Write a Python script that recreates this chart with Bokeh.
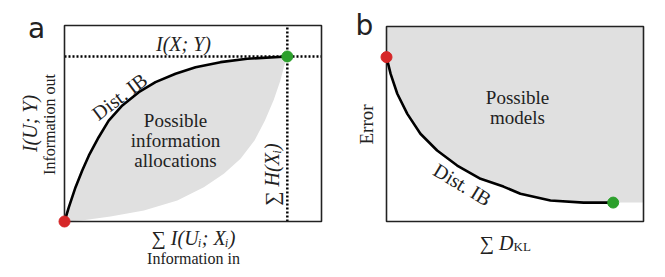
from bokeh.plotting import figure
from bokeh.layouts import row
from bokeh.models import Range1d, Label
from bokeh.embed import file_html
from bokeh.resources import INLINE
import math

# ---------------- data ----------------
# panel a: distributed IB frontier (upper) and lower bound of possible allocations
a_upper_x = [0, 0.017, 0.043, 0.069, 0.095, 0.133, 0.172, 0.225, 0.289, 0.354, 0.432, 0.510, 0.607, 0.711, 0.867]
a_upper_y = [0, 0.073, 0.175, 0.260, 0.337, 0.430, 0.515, 0.592, 0.660, 0.711, 0.754, 0.787, 0.813, 0.830, 0.842]
a_lower_x = [0, 0.08, 0.179, 0.309, 0.439, 0.542, 0.620, 0.685, 0.740, 0.780, 0.814, 0.840, 0.856, 0.867]
a_lower_y = [0, 0.008, 0.026, 0.056, 0.107, 0.175, 0.243, 0.320, 0.415, 0.515, 0.620, 0.720, 0.800, 0.842]
a_mi_xy = 0.842      # I(X;Y)
a_sum_h = 0.867      # sum H(X_i)

# panel b: error vs sum of KL
b_curve_x = [0, 0.016, 0.042, 0.081, 0.132, 0.197, 0.275, 0.366, 0.455, 0.521, 0.638, 0.767, 0.882]
b_curve_y = [0.843, 0.757, 0.655, 0.552, 0.450, 0.364, 0.287, 0.219, 0.179, 0.142, 0.108, 0.097, 0.097]

RED = "#d62728"
GREEN = "#2ca02c"
GREY = "#e0e0e0"
SERIF = "Liberation Serif"
SANS = "DejaVu Sans"

Y0 = 0     # page offset of the figures
H = 272

# --------------- panel a ---------------
A_L, A_R, A_T, A_B, A_X0 = 64, 321, 25, 221, 0
A_W = 338
def ax(px): return (px - A_L) / (A_R - A_L)
def ay(py): return (A_B - py) / (A_B - A_T)

pa = figure(width=A_W, height=H, output_backend="svg", toolbar_location=None,
            x_range=Range1d(ax(A_X0), ax(A_X0 + A_W)), y_range=Range1d(ay(Y0 + H), ay(Y0)),
            x_axis_location=None, y_axis_location=None, min_border=0)
pa.outline_line_color = None
pa.grid.visible = False

pa.patch(a_upper_x + a_lower_x[::-1], a_upper_y + a_lower_y[::-1], fill_color=GREY, line_color=None)
pa.line([0, 1], [a_mi_xy, a_mi_xy], line_color="black", line_width=2.5, line_dash="2 2")
pa.line([a_sum_h, a_sum_h], [0, 1], line_color="black", line_width=2.5, line_dash="2 2")
pa.quad(left=0, right=1, bottom=0, top=1, fill_color=None, line_color="#222222", line_width=1.6)
pa.line(a_upper_x, a_upper_y, line_color="black", line_width=2.6)
pa.scatter([a_upper_x[0]], [a_upper_y[0]], size=11, color=RED)
pa.scatter([a_upper_x[-1]], [a_upper_y[-1]], size=11, color=GREEN)

def lab(p, fx, fy, x, y, text, size, style="normal", angle=0, font=SERIF, align="center", baseline="middle"):
    p.add_layout(Label(x=fx(x), y=fy(y), text=text, text_font=font, text_font_size=f"{size}px",
                       text_font_style=style, angle=angle, text_align=align, text_baseline=baseline,
                       text_color="#222222"))

lab(pa, ax, ay, 36, 28, "a", 28, font=SANS)
lab(pa, ax, ay, 183, 43, "I(X; Y)", 20, "italic")
lab(pa, ax, ay, 175, 120, "Possible", 19)
lab(pa, ax, ay, 175, 140, "information", 19)
lab(pa, ax, ay, 175, 160, "allocations", 19)
lab(pa, ax, ay, 119, 96, "Dist. IB", 20, angle=math.radians(37))
lab(pa, ax, ay, 271, 174, "∑ H(Xᵢ)", 20, "italic", angle=math.pi / 2)
lab(pa, ax, ay, 29, 123, "I(U; Y)", 20, "italic", angle=math.pi / 2)
lab(pa, ax, ay, 49, 124, "Information out", 16, angle=math.pi / 2)
lab(pa, ax, ay, 193, 237, "∑ I(Uᵢ; Xᵢ)", 20, "italic")
lab(pa, ax, ay, 193, 258, "Information in", 16)

# --------------- panel b ---------------
B_L, B_R, B_T, B_B, B_X0 = 386, 643, 26, 221, A_X0 + A_W
B_W = 322
def bx(px): return (px - B_L) / (B_R - B_L)
def by(py): return (B_B - py) / (B_B - B_T)

pb = figure(width=B_W, height=H, output_backend="svg", toolbar_location=None,
            x_range=Range1d(bx(B_X0), bx(B_X0 + B_W)), y_range=Range1d(by(Y0 + H), by(Y0)),
            x_axis_location=None, y_axis_location=None, min_border=0)
pb.outline_line_color = None
pb.grid.visible = False

pb.patch([0] + b_curve_x + [1, 1], [1] + b_curve_y + [b_curve_y[-1], 1], fill_color=GREY, line_color=None)
pb.quad(left=0, right=1, bottom=0, top=1, fill_color=None, line_color="#222222", line_width=1.6)
pb.line(b_curve_x, b_curve_y, line_color="black", line_width=2.6)
pb.scatter([b_curve_x[0]], [b_curve_y[0]], size=11, color=RED)
pb.scatter([b_curve_x[-1]], [b_curve_y[-1]], size=11, color=GREEN)

lab(pb, bx, by, 364, 25, "b", 28, font=SANS)
lab(pb, bx, by, 517, 97, "Possible", 19)
lab(pb, bx, by, 517, 117, "models", 19)
lab(pb, bx, by, 462, 184, "Dist. IB", 20, angle=math.radians(-31))
lab(pb, bx, by, 366, 124, "Error", 19, angle=math.pi / 2)
lab(pb, bx, by, 513, 242, "∑ D", 20, "italic", align="right")
lab(pb, bx, by, 513, 246, "KL", 13, align="left")

layout = row(pa, pb)
open("out.html", "w").write(file_html(layout, INLINE))
